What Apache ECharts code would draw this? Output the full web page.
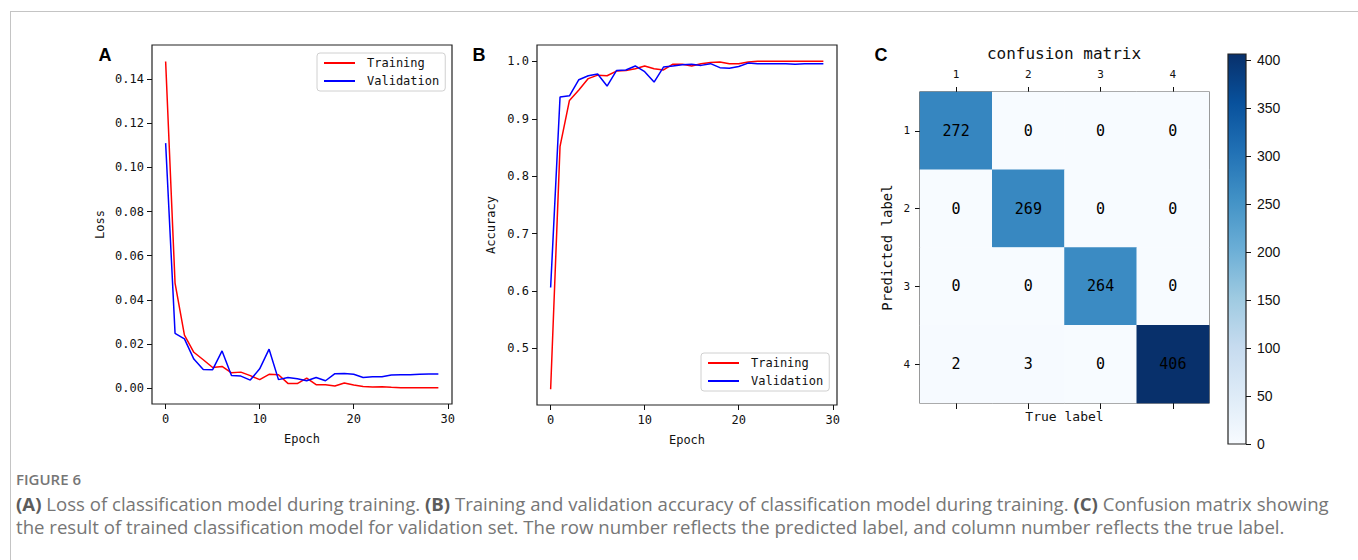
<!DOCTYPE html>
<html><head><meta charset="utf-8">
<script src="https://cdn.jsdelivr.net/npm/echarts@6/dist/echarts.min.js"></script>
<style>
html,body{margin:0;padding:0;background:#fff;}
#wrap{position:relative;width:1358px;height:560px;overflow:hidden;background:#fff;}
#chart{position:absolute;left:0;top:0;width:1358px;height:560px;}
#frame{position:absolute;left:10px;top:11px;width:1400px;height:600px;border-top:1px solid #c4c4c4;border-left:1px solid #c4c4c4;}
.cap{position:absolute;left:16px;font-family:'Open Sans',sans-serif;color:#767676;white-space:nowrap;line-height:1;}
.cap b{font-weight:700;color:#5c5c5c;}
</style></head>
<body><div id="wrap"><div id="frame"></div><div id="chart"></div>
<div class="cap" style="top:472px;font-size:15px;font-weight:600;">FIGURE 6</div>
<div class="cap" style="top:495px;font-size:18.6px;"><b>(A)</b> Loss of classification model during training. <b>(B)</b> Training and validation accuracy of classification model during training. <b>(C)</b> Confusion matrix showing</div>
<div class="cap" style="top:518px;font-size:18.6px;">the result of trained classification model for validation set. The row number reflects the predicted label, and column number reflects the true label.</div>
</div>
<script>
// ---- data ----
const epochs = [0,1,2,3,4,5,6,7,8,9,10,11,12,13,14,15,16,17,18,19,20,21,22,23,24,25,26,27,28,29];
const lossTrain = [0.148,0.0476,0.024,0.0162,0.0128,0.0093,0.0098,0.0069,0.0072,0.0056,0.0038,0.0062,0.006,0.0021,0.002,0.0045,0.0015,0.0015,0.0009,0.0023,0.0014,0.0007,0.0005,0.0006,0.0003,0.0001,0.0001,0.0001,0.0001,0.0001];
const lossVal = [0.111,0.0248,0.0223,0.0131,0.0084,0.0083,0.0168,0.0057,0.0054,0.0036,0.0087,0.0176,0.0038,0.0048,0.0042,0.0033,0.0048,0.0033,0.0065,0.0066,0.0062,0.0048,0.0051,0.0051,0.0059,0.006,0.006,0.0062,0.0063,0.0063];
const accTrain = [0.429,0.852,0.932,0.95,0.97,0.976,0.975,0.983,0.984,0.987,0.992,0.987,0.985,0.995,0.995,0.992,0.996,0.998,0.999,0.996,0.996,0.999,1.0,1.0,1.0,1.0,1.0,1.0,1.0,1.0];
const accVal = [0.606,0.938,0.94,0.968,0.975,0.978,0.957,0.984,0.985,0.992,0.982,0.964,0.99,0.992,0.994,0.995,0.993,0.996,0.989,0.988,0.991,0.997,0.996,0.996,0.996,0.996,0.995,0.996,0.996,0.996];
const epochTicks = [0,10,20,30];
const lossTicks = [0,0.02,0.04,0.06,0.08,0.10,0.12,0.14];
const accTicks = [0.5,0.6,0.7,0.8,0.9,1.0];
const cmLabels = ['1','2','3','4'];
const cmRow1 = [272,0,0,0];
const cmRow2 = [0,269,0,0];
const cmRow3 = [0,0,264,0];
const cmRow4 = [2,3,0,406];
const cbTicks = [0,50,100,150,200,250,300,350,400];
const cbMax = 406;
const blues = ['#f7fbff','#deebf7','#c6dbef','#9ecae1','#6baed6','#4292c6','#2171b5','#08519c','#08306b'];

// ---- build ----
const pair = (xs, ys) => xs.map((x,i)=>[x, ys[i]]);
const cmRows = [cmRow1,cmRow2,cmRow3,cmRow4];
const cmData = [];
cmRows.forEach((row,r)=>row.forEach((v,c)=>cmData.push([c,r,v])));

const mono = "'DejaVu Sans Mono', 'Liberation Mono', monospace";
const sans = "'Liberation Sans', Arial, sans-serif";
const ink = '#111';

function valAxisX(grid, min, max, ticks, name){
  return {gridIndex:grid,type:'value',min:min,max:max,
    axisLine:{show:false,onZero:false},splitLine:{show:false},
    axisTick:{show:true,length:5,lineStyle:{color:ink,width:1},customValues:ticks},
    axisLabel:{fontFamily:mono,fontSize:12,color:ink,margin:9,customValues:ticks},
    name:name,nameLocation:'middle',nameGap:29,
    nameTextStyle:{fontFamily:mono,fontSize:12,color:ink}};
}
function valAxisY(grid, min, max, ticks, name, gap, dec){
  return {gridIndex:grid,type:'value',min:min,max:max,
    axisLine:{show:false,onZero:false},splitLine:{show:false},
    axisTick:{show:true,length:5,lineStyle:{color:ink,width:1},customValues:ticks},
    axisLabel:{fontFamily:mono,fontSize:12,color:ink,margin:8,customValues:ticks,formatter:v=>v.toFixed(dec)},
    name:name,nameLocation:'middle',nameGap:gap,
    nameTextStyle:{fontFamily:mono,fontSize:12,color:ink}};
}
const gridBox = {show:true,borderColor:'#222',borderWidth:1.2,backgroundColor:'rgba(0,0,0,0)'};
const legendCommon = {orient:'vertical',itemWidth:31,itemHeight:14,itemGap:6,
  padding:[4,6,4,6],borderColor:'#d0d0d0',borderWidth:1,borderRadius:3,backgroundColor:'#fff',
  itemStyle:{opacity:0},
  textStyle:{fontFamily:mono,fontSize:12,color:ink,padding:[0,0,0,7]},data:['Training','Validation']};
const lineSeries = (name,color,xi,yi,data)=>({name:name,type:'line',xAxisIndex:xi,yAxisIndex:yi,data:data,
  symbol:'none',lineStyle:{color:color,width:1.5},itemStyle:{color:color},z:3});

const option = {
  animation:false,
  grid:[
    Object.assign({left:152,top:45,width:300,height:359},gridBox),
    Object.assign({left:537,top:45,width:300,height:360},gridBox),
    Object.assign({left:920,top:92,width:289,height:311},gridBox),
    Object.assign({left:1228,top:54,width:18,height:390},gridBox)
  ],
  xAxis:[
    valAxisX(0,-1.45,30.45,epochTicks,'Epoch'),
    valAxisX(1,-1.45,30.45,epochTicks,'Epoch'),
    {gridIndex:2,type:'category',data:cmLabels,position:'top',
      axisLine:{show:false,onZero:false},splitLine:{show:false},
      axisTick:{show:true,alignWithLabel:true,length:5,lineStyle:{color:ink}},
      axisLabel:{fontFamily:mono,fontSize:11,color:ink,margin:12}},
    {gridIndex:2,type:'category',data:cmLabels,position:'bottom',
      axisLine:{show:false,onZero:false},splitLine:{show:false},
      axisTick:{show:true,alignWithLabel:true,length:6,lineStyle:{color:ink}},
      axisLabel:{show:false},
      name:'True label',nameLocation:'middle',nameGap:7,
      nameTextStyle:{fontFamily:mono,fontSize:13,color:ink}},
    {gridIndex:3,type:'value',show:false,min:0,max:1}
  ],
  yAxis:[
    valAxisY(0,-0.00725,0.1555,lossTicks,'Loss',46,2),
    valAxisY(1,0.4015,1.0285,accTicks,'Accuracy',40,1),
    {gridIndex:2,type:'category',data:cmLabels,inverse:true,
      axisLine:{show:false,onZero:false},splitLine:{show:false},
      axisTick:{show:true,alignWithLabel:true,length:5,lineStyle:{color:ink}},
      axisLabel:{fontFamily:mono,fontSize:11,color:ink,margin:10},
      name:'Predicted label',nameLocation:'middle',nameGap:26,
      nameTextStyle:{fontFamily:mono,fontSize:14,color:ink}},
    {gridIndex:3,type:'value',min:0,max:cbMax,position:'right',
      axisLine:{show:false,onZero:false},splitLine:{show:false},
      axisTick:{show:true,inside:false,length:5,lineStyle:{color:ink},customValues:cbTicks},
      axisLabel:{fontFamily:sans,fontSize:14,color:ink,margin:11,customValues:cbTicks}}
  ],
  legend:[
    Object.assign({left:317,top:53},legendCommon),
    Object.assign({left:701,top:353},legendCommon)
  ],
  visualMap:{show:false,type:'continuous',min:0,max:cbMax,seriesIndex:4,inRange:{color:blues}},
  series:[
    lineSeries('Training','#ff0000',0,0,pair(epochs,lossTrain)),
    lineSeries('Validation','#0000ff',0,0,pair(epochs,lossVal)),
    lineSeries('Training','#ff0000',1,1,pair(epochs,accTrain)),
    lineSeries('Validation','#0000ff',1,1,pair(epochs,accVal)),
    {type:'heatmap',xAxisIndex:2,yAxisIndex:2,data:cmData,
      label:{show:true,color:'#000',fontFamily:mono,fontSize:15},
      itemStyle:{borderWidth:0},emphasis:{disabled:true}}
  ],
  graphic:[
    {type:'rect',z:-1,shape:{x:1228,y:54,width:18,height:390},
      style:{fill:{type:'linear',x:0,y:1,x2:0,y2:0,
        colorStops:blues.map((c,i)=>({offset:i/(blues.length-1),color:c}))}}},
    {type:'text',x:105,y:55,style:{text:'A',font:"bold 18px 'Liberation Sans', Arial",fill:'#000',align:'center',verticalAlign:'middle'}},
    {type:'text',x:479,y:55,style:{text:'B',font:"bold 18px 'Liberation Sans', Arial",fill:'#000',align:'center',verticalAlign:'middle'}},
    {type:'text',x:881,y:55,style:{text:'C',font:"bold 18px 'Liberation Sans', Arial",fill:'#000',align:'center',verticalAlign:'middle'}},
    {type:'text',x:1064,y:53,style:{text:'confusion matrix',font:"16px 'DejaVu Sans Mono'",fill:ink,align:'center',verticalAlign:'middle'}}
  ]
};
const chart = echarts.init(document.getElementById('chart'),null,{renderer:'svg'});
chart.setOption(option);
</script>
</body></html>
